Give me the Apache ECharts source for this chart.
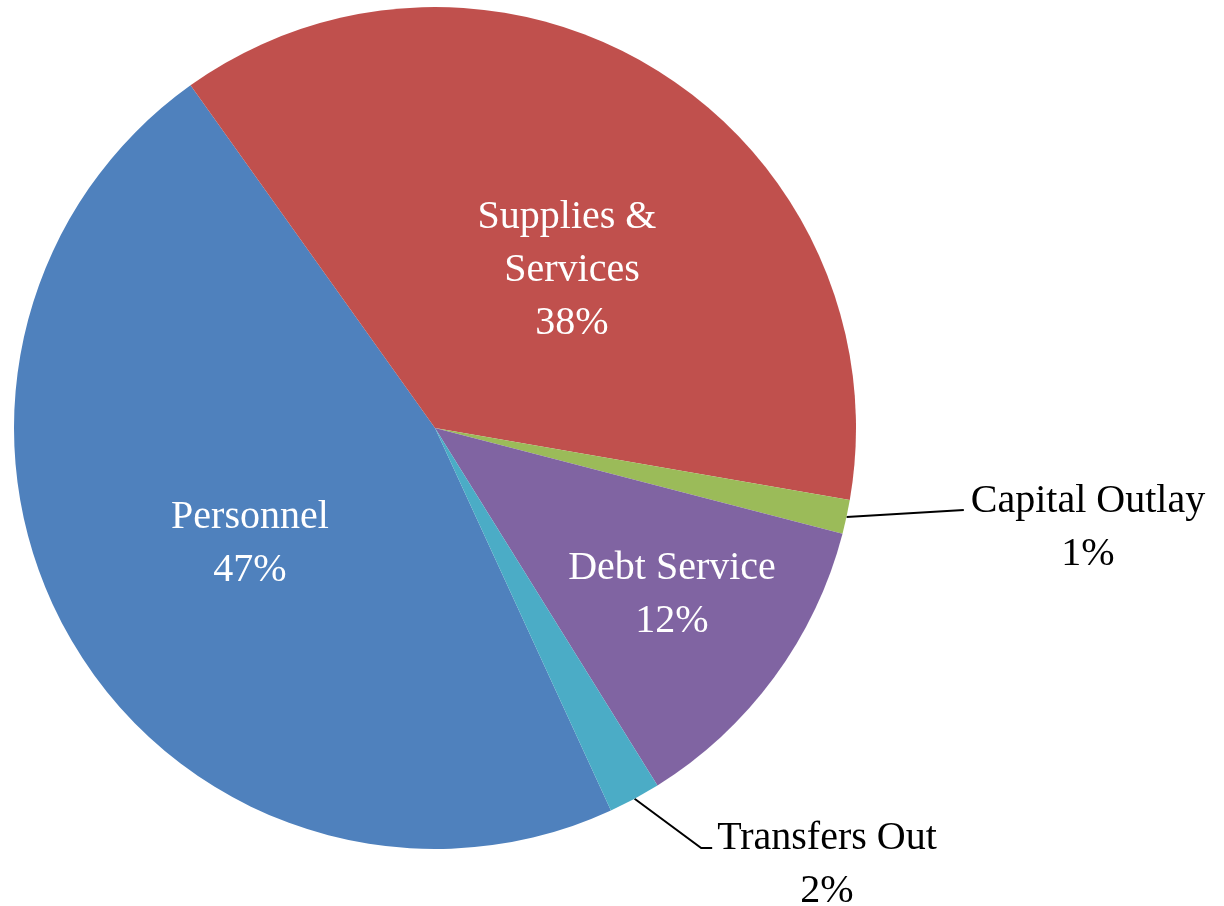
<!DOCTYPE html>
<html>
<head>
<meta charset="utf-8">
<title>Expenditures by Category</title>
<script src="https://cdn.jsdelivr.net/npm/echarts@6/dist/echarts.min.js"></script>
<style>
  html, body { margin: 0; padding: 0; background: #ffffff; }
  #chart { width: 1224px; height: 906px; }
</style>
</head>
<body>
<div id="chart"></div>
<script>
// Expenditure categories, in the order they are drawn clockwise
const categories = ['Personnel', 'Supplies & Services', 'Capital Outlay', 'Debt Service', 'Transfers Out'];
// Share of total expenditures (%)
const shares = [47.0, 37.6, 1.3, 12.1, 2.0];
const colors = ['#4F81BD', '#C0504D', '#9BBB59', '#8064A2', '#4BACC6'];

// Pie geometry
const cx = 435, cy = 428, radius = 421;
const FONT = '"Liberation Serif", "DejaVu Serif", serif';

// Label centres relative to the pie centre, plus leader shapes for outside labels
const labelSpots = [
  { dx: -185, dy: 116 },
  { dx: 137, dy: -158 },
  { dx: 653, dy: 100, leader: { gap: 7, run: 0, rise: -18 } },
  { dx: 237, dy: 167 },
  { dx: 392, dy: 437, leader: { gap: 5, run: 11, rise: -17 } }
];

const chart = echarts.init(document.getElementById('chart'), null, { renderer: 'canvas' });

const data = categories.map(function (name, i) {
  const outside = !!labelSpots[i].leader;
  const item = {
    name: name,
    value: shares[i],
    itemStyle: { color: colors[i] },
    label: {
      position: outside ? 'outside' : 'inside',
      color: outside ? '#000000' : '#ffffff'
    },
    labelLine: { show: outside }
  };
  if (name === 'Supplies & Services') {
    item.label.width = 200;
    item.label.overflow = 'break';
  }
  return item;
});

chart.setOption({
  backgroundColor: '#ffffff',
  animation: false,
  series: [{
    type: 'pie',
    center: [cx, cy],
    radius: radius,
    startAngle: -65.3,
    clockwise: true,
    avoidLabelOverlap: false,
    silent: true,
    itemStyle: { borderWidth: 0 },
    label: {
      show: true,
      fontFamily: FONT,
      fontSize: 40,
      lineHeight: 53,
      align: 'center',
      formatter: function (p) {
        return p.name + '\n' + Math.round(p.percent) + '%';
      }
    },
    labelLine: {
      length: 20,
      length2: 20,
      lineStyle: { color: '#000000', width: 2 }
    },
    labelLayout: function (p) {
      const spot = labelSpots[p.dataIndex];
      const x = cx + spot.dx;
      const y = cy + spot.dy;
      const out = { x: x, y: y, align: 'center', verticalAlign: 'middle' };
      if (spot.leader && p.labelLinePoints) {
        const left = x - p.labelRect.width / 2;
        const start = p.labelLinePoints[0];
        const end = [left - spot.leader.gap, y + spot.leader.rise];
        const pts = [start];
        if (spot.leader.run > 0) pts.push([end[0] - spot.leader.run, end[1]]);
        pts.push(end);
        out.labelLinePoints = pts;
      }
      return out;
    },
    data: data
  }]
});
</script>
</body>
</html>
